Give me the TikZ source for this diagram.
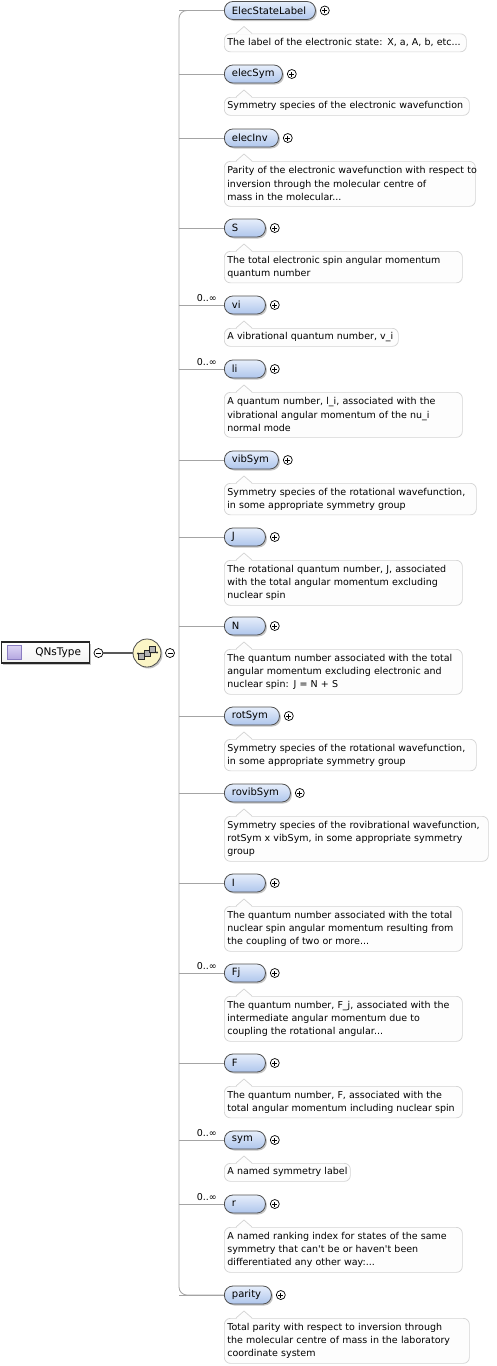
\documentclass[tikz,border=0pt]{standalone}
\usepackage{fontspec}
\newfontfamily\djv{DejaVu Sans}
\usetikzlibrary{shadows}
\definecolor{elemtop}{HTML}{E6EEFB}
\definecolor{elembot}{HTML}{AFC6EC}
\definecolor{elemline}{HTML}{505050}
\definecolor{annline}{HTML}{D4D4D4}
\definecolor{annfill}{HTML}{FDFDFD}
\definecolor{connline}{HTML}{A4A4A4}
\definecolor{compfill}{HTML}{FBF5C6}
\definecolor{icontop}{HTML}{DCD4F4}
\definecolor{iconbot}{HTML}{B4A6E0}
\definecolor{iconline}{HTML}{8A7CC0}
\newcommand\elemfont{\djv\fontsize{10}{12}\selectfont}
\newcommand\annfont{\djv\fontsize{9.5}{13.4}\selectfont}
\newcommand\typefont{\djv\fontsize{10.5}{12}\selectfont}
\newcommand\annl[1]{\mbox{#1}}
\tikzset{
  elembox/.style={draw=elemline, line width=0.8pt, rounded corners=8.5pt,
    top color=elemtop, bottom color=elembot, minimum height=18pt,
    inner xsep=7.5pt, inner ysep=0pt, align=left, anchor=west, font=\elemfont,
    drop shadow={shadow xshift=1.5pt, shadow yshift=-1.5pt, opacity=0.45}},
  annbox/.style={draw=annline, fill=annfill, rounded corners=6pt, line width=0.7pt,
    inner xsep=3pt, inner ysep=0pt, align=left, anchor=north west, font=\annfont},
  pm/.style={circle, draw=black, fill=white, line width=0.7pt, minimum size=9pt, inner sep=0pt},
  pmline/.style={line width=0.7pt},
  conn/.style={draw=connline, line width=0.8pt},
  multlabel/.style={font=\annfont, anchor=base east, inner sep=0pt},
}
\newcommand\elemrow[8]{%
  \pgfmathsetmacro\elw{#3-15}%
  \pgfmathsetmacro\anw{#5-6}%
  \coordinate (sp#1) at (179,#2);
  \draw[conn] (sp#1) -- (224,#2);
  \node[elembox, text width=\elw pt] (#1) at (224,#2) {#4};
  \node[pm, xshift=9pt] (pl#1) at (#1.east) {};
  \draw[pmline] ([xshift=-2.5pt]pl#1.center) -- ([xshift=2.5pt]pl#1.center)
                ([yshift=-2.5pt]pl#1.center) -- ([yshift=2.5pt]pl#1.center);
  \node[annbox, text width=\anw pt, minimum height=#6pt] (ann#1) at (224,#2+23) {#7};
  \fill[annfill] ([xshift=12.5pt,yshift=-0.9pt]ann#1.north west) -- ([xshift=12.5pt]ann#1.north west)
     -- ([xshift=20pt,yshift=7pt]ann#1.north west) -- ([xshift=27.5pt]ann#1.north west)
     -- ([xshift=27.5pt,yshift=-0.9pt]ann#1.north west) -- cycle;
  \draw[annline, line width=0.7pt] ([xshift=12pt]ann#1.north west)
     -- ([xshift=20pt,yshift=7pt]ann#1.north west) -- ([xshift=28pt]ann#1.north west);
  \if\relax\detokenize{#8}\relax\else
    \node[multlabel] (m#1) at (217,#2-3.5) {#8};
  \fi
}
\begin{document}
\begin{tikzpicture}[x=1pt,y=-1pt]
\useasboundingbox (0,0) rectangle (496,1366);
\fill[white] (0,0) rectangle (496,1366);

% spine
\coordinate (spTop) at (179,10.5);
\coordinate (spBot) at (179,1295);
\draw[conn, rounded corners=8pt] (224,10.5) -- (spTop) -- (spBot) -- (224,1295);

\elemrow{ElecStateLabel}{10.5}{91}{ElecStateLabel}{242}{18}{\annl{The label of the electronic state: X, a, A, b, etc...}}{}
\elemrow{elecSym}{74}{58}{elecSym}{245}{18}{\annl{Symmetry species of the electronic wavefunction}}{}
\elemrow{elecInv}{138}{54}{elecInv}{251}{45}{\annl{Parity of the electronic wavefunction with respect to}\\\annl{inversion through the molecular centre of}\\\annl{mass in the molecular...}}{}
\elemrow{S}{228}{41}{S}{238}{31.5}{\annl{The total electronic spin angular momentum}\\\annl{quantum number}}{}
\elemrow{vi}{305}{41}{vi}{174}{18}{\annl{A vibrational quantum number, v\_i}}{0..∞}
\elemrow{li}{369}{41}{li}{238}{45}{\annl{A quantum number, l\_i, associated with the}\\\annl{vibrational angular momentum of the nu\_i}\\\annl{normal mode}}{0..∞}
\elemrow{vibSym}{460}{54}{vibSym}{252}{31.5}{\annl{Symmetry species of the rotational wavefunction,}\\\annl{in some appropriate symmetry group}}{}
\elemrow{J}{537}{41}{J}{238}{45}{\annl{The rotational quantum number, J, associated}\\\annl{with the total angular momentum excluding}\\\annl{nuclear spin}}{}
\elemrow{N}{626}{41}{N}{238}{45}{\annl{The quantum number associated with the total}\\\annl{angular momentum excluding electronic and}\\\annl{nuclear spin: J = N + S}}{}
\elemrow{rotSym}{716}{55}{rotSym}{252}{31.5}{\annl{Symmetry species of the rotational wavefunction,}\\\annl{in some appropriate symmetry group}}{}
\elemrow{rovibSym}{793}{66}{rovibSym}{264}{45}{\annl{Symmetry species of the rovibrational wavefunction,}\\\annl{rotSym x vibSym, in some appropriate symmetry}\\\annl{group}}{}
\elemrow{I}{883}{41}{I}{238}{45}{\annl{The quantum number associated with the total}\\\annl{nuclear spin angular momentum resulting from}\\\annl{the coupling of two or more...}}{}
\elemrow{Fj}{973}{41}{Fj}{238}{45}{\annl{The quantum number, F\_j, associated with the}\\\annl{intermediate angular momentum due to}\\\annl{coupling the rotational angular...}}{0..∞}
\elemrow{F}{1063}{41}{F}{238}{31.5}{\annl{The quantum number, F, associated with the}\\\annl{total angular momentum including nuclear spin}}{}
\elemrow{sym}{1140}{41}{sym}{126}{18}{\annl{A named symmetry label}}{0..∞}
\elemrow{r}{1204}{41}{r}{238}{45}{\annl{A named ranking index for states of the same}\\\annl{symmetry that can't be or haven't been}\\\annl{differentiated any other way:...}}{0..∞}
\elemrow{parity}{1295}{47}{parity}{245}{45}{\annl{Total parity with respect to inversion through}\\\annl{the molecular centre of mass in the laboratory}\\\annl{coordinate system}}{}

% complex type
\node[draw=black!85, line width=1.1pt, top color=white, bottom color=black!5,
      text width=71pt, inner xsep=8.5pt, minimum height=21pt, align=right,
      anchor=west, font=\typefont,
      drop shadow={shadow xshift=1.5pt, shadow yshift=-1.5pt, opacity=0.45}]
      (QNsType) at (1,652.5) {QNsType};
\node[draw=iconline, line width=0.7pt, top color=icontop, bottom color=iconbot,
      minimum size=14pt, inner sep=0pt] (QNsIcon) at (14.5,652.5) {};
\node[pm] (minusA) at (98.5,653) {};
\draw[pmline] ([xshift=-2.5pt]minusA.center) -- ([xshift=2.5pt]minusA.center);

% sequence compositor
\node[circle, draw=black!70, line width=0.8pt, fill=compfill, minimum size=28pt,
      inner sep=0pt, drop shadow={shadow xshift=1.5pt, shadow yshift=-1.5pt, opacity=0.45}]
      (seq) at (147,653) {};
\draw[line width=1.5pt, black!65] (minusA) -- (seq);
\draw[line width=0.8pt, black!80] (138,653.5) -- (157,652.5);
\fill[black!80] (138,653.5) circle (1.1pt) (157,652.5) circle (1.1pt);
\foreach \cx/\cy in {141.5/656.5, 147/653, 152.5/649.5}{
  \filldraw[draw=black!85, fill=black!30, line width=0.6pt] (\cx-3,\cy-3) rectangle (\cx+3,\cy+3);
}
\node[pm] (minusB) at (170,653) {};
\draw[pmline] ([xshift=-2.5pt]minusB.center) -- ([xshift=2.5pt]minusB.center);
\end{tikzpicture}
\end{document}
